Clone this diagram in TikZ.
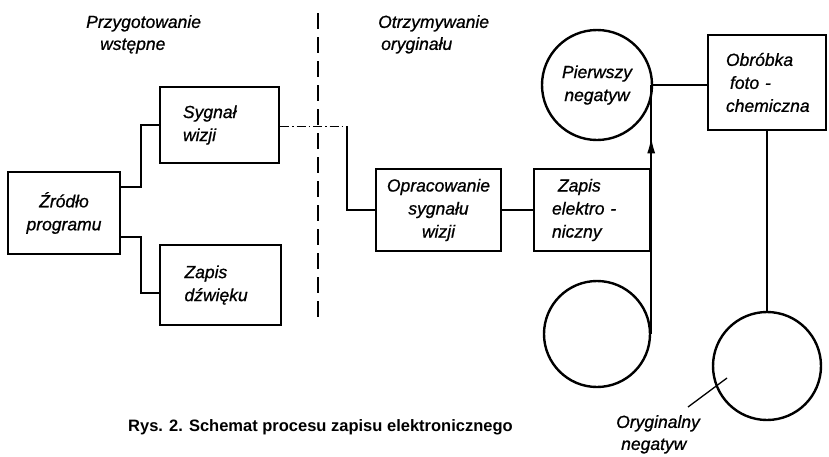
\documentclass[tikz,border=0pt]{standalone}
\usepackage{fontspec}
\setmainfont{Liberation Sans}
\newfontfamily\dgfont{Liberation Sans}[ItalicFeatures={FakeBold=0.8}]
\usetikzlibrary{arrows.meta,decorations.markings,calc}
\newcommand\dglbl{\dgfont\itshape\fontsize{17.5}{23}\selectfont}
\newcommand\dgttl{\dgfont\itshape\fontsize{17.5}{22}\selectfont}
\newcommand\dgcap{\bfseries\fontsize{16.5}{19}\selectfont}
\begin{document}
\begin{tikzpicture}[x=1pt,y=-1pt,
  blk/.style={draw,line width=2.4pt,inner sep=0pt,font=\dglbl},
  reel/.style={draw,circle,line width=2.4pt,inner sep=0pt,font=\dglbl,align=center},
  conn/.style={line width=1.7pt},
  ttl/.style={font=\dgttl,inner sep=0pt,align=left}]
\fill[white] (0,0) rectangle (829,456);
\useasboundingbox (0,0) rectangle (829,456);

% boxes
\node[blk,minimum width=112,minimum height=82,align=center] (zrodlo) at (64,213) {Źródło\\programu};
\node[blk,minimum width=119,minimum height=76,text width=73,align=left] (sygnal) at (219.5,125) {Sygnał\\wizji};
\node[blk,minimum width=121,minimum height=80,text width=72,align=left] (dzwiek) at (220.5,285) {Zapis\\dźwięku};
\node[blk,minimum width=125,minimum height=82,align=center] (oprac) at (438.5,210) {Opracowanie\\sygnału\\wizji};
\node[blk,minimum width=116,minimum height=82,text width=80,align=left] (zapisel) at (592,210) {\hspace*{6pt}Zapis\\elektro -\\niczny};
\node[blk,minimum width=118,minimum height=95,text width=82,align=left] (obrobka) at (767,82.5) {Obróbka\\\hspace*{4pt}foto -\\chemiczna};

% reels
\node[reel,minimum size=110] (pierwszy) at (597,85) {Pierwszy\\negatyw};
\node[reel,minimum size=106] (spool1) at (597,334) {};
\node[reel,minimum size=108] (spool2) at (767,366) {};

% divider
\coordinate (d1) at (318,13);
\coordinate (d2) at (318,323);
\draw[line width=1.2pt,dash pattern=on 16pt off 8pt] (d1) -- (d2);

% titles
\node[ttl,anchor=north west] (t1) at (86,15) {Przygotowanie\\\hspace*{14pt}wstępne};
\node[ttl,anchor=north west] (t2) at (378,15) {Otrzymywanie\\\hspace*{3pt}oryginału};

% connectors
\draw[conn] (zrodlo.east |- 0,187) -- ++(20,0) |- (sygnal.west);
\draw[conn] (zrodlo.east |- 0,237) -- ++(20,0) |- (dzwiek.west |- 0,293);
\coordinate (k) at (347,126);
\draw[line width=1pt,dash pattern=on 9pt off 3pt on 1.5pt off 3pt] (sygnal.east |- k) -- (k);
\draw[conn] (k) |- (oprac.west);
\draw[conn] (oprac.east) -- (zapisel.west);
\draw[conn,postaction={decorate},decoration={markings,mark=at position 0.79 with {\arrow{Latex[length=16pt,width=8pt]}}}] (spool1.east) -- (spool1.east |- pierwszy.east);
\draw[conn] (pierwszy.east) -- (obrobka.west |- pierwszy.east);
\draw[conn] (obrobka.south) -- (spool2.north);

% label of original negative
\coordinate (lead1) at (727,378);
\coordinate (lead2) at (688,407);
\draw[line width=1.3pt] (lead1) -- (lead2);
\node[ttl,anchor=north west] (orylbl) at (616,415) {Oryginalny\\\hspace*{5pt}negatyw};

% caption
\node[font=\dgcap,inner sep=0pt,anchor=base west] (cap) at (128,431) {Rys. 2. Schemat procesu zapisu elektronicznego};
\end{tikzpicture}
\end{document}
